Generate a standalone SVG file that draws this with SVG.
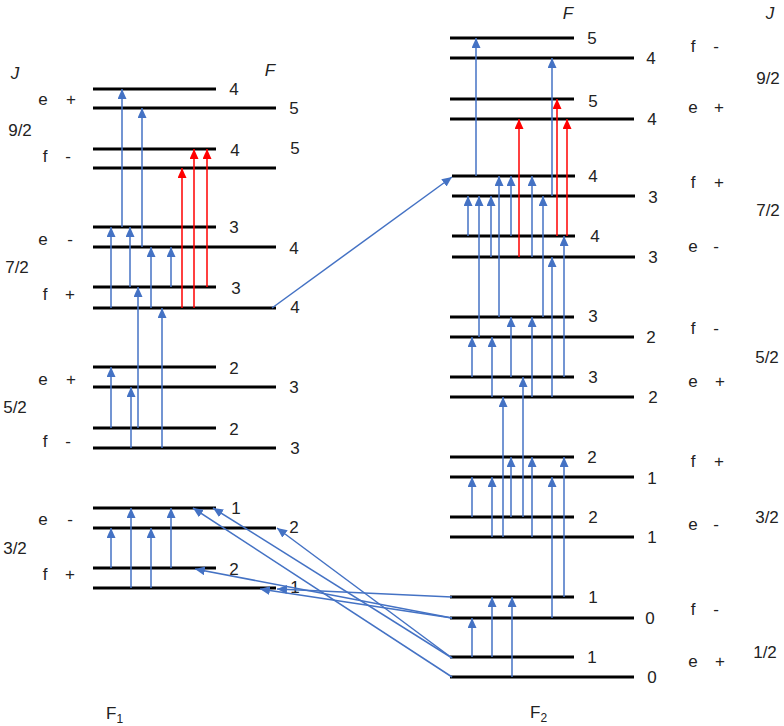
<svg xmlns="http://www.w3.org/2000/svg" width="784" height="726" viewBox="0 0 784 726">
<defs>
<style>
.lv{stroke:#000;stroke-width:3;fill:none}
.t{font-family:"Liberation Sans",Arial,sans-serif;font-size:17px;fill:#222}
.m{text-anchor:middle}
.i{font-style:italic}
.b{stroke:#4472C4;stroke-width:1.5;fill:none;marker-end:url(#ab)}
.r{stroke:#FF0000;stroke-width:1.5;fill:none;marker-end:url(#ar)}
</style>
<marker id="ab" viewBox="0 0 10 9" refX="10" refY="4.5" markerWidth="10" markerHeight="9" markerUnits="userSpaceOnUse" orient="auto"><path d="M0,0 L10,4.5 L0,9 z" fill="#4472C4"/></marker>
<marker id="ar" viewBox="0 0 10 9" refX="10" refY="4.5" markerWidth="10" markerHeight="9" markerUnits="userSpaceOnUse" orient="auto"><path d="M0,0 L10,4.5 L0,9 z" fill="#FF0000"/></marker>
</defs>
<rect width="784" height="726" fill="#fff"/>

<!-- axis headers -->
<text class="t i m" x="15" y="79">J</text>
<text class="t i m" x="270" y="76">F</text>
<text class="t i m" x="568" y="19">F</text>
<text class="t i m" x="770" y="19">J</text>
<text class="t" x="106" y="719">F<tspan font-size="12" dy="4">1</tspan></text>
<text class="t" x="530" y="718">F<tspan font-size="12" dy="4">2</tspan></text>

<!-- F1 column -->
<g id="F1-J92-e">
<line class="lv" x1="93" y1="89" x2="216" y2="89"/><line class="lv" x1="93" y1="108" x2="276" y2="108"/>
<text class="t m" x="234" y="95">4</text><text class="t m" x="294" y="114">5</text>
<text class="t m" x="43" y="105">e</text><text class="t m" x="71" y="105">+</text>
<text class="t m" x="20" y="136">9/2</text>
</g>
<g id="F1-J92-f">
<line class="lv" x1="93" y1="149" x2="216" y2="149"/><line class="lv" x1="93" y1="168" x2="276" y2="168"/>
<text class="t m" x="235" y="156">4</text><text class="t m" x="295" y="154">5</text>
<text class="t m" x="45" y="162">f</text><text class="t m" x="68" y="162">-</text>
</g>
<g id="F1-J72-e">
<line class="lv" x1="93" y1="227" x2="216" y2="227"/><line class="lv" x1="93" y1="247" x2="276" y2="247"/>
<text class="t m" x="234" y="233">3</text><text class="t m" x="294" y="254">4</text>
<text class="t m" x="43" y="245">e</text><text class="t m" x="70" y="245">-</text>
<text class="t m" x="17" y="273">7/2</text>
</g>
<g id="F1-J72-f">
<line class="lv" x1="93" y1="287" x2="216" y2="287"/><line class="lv" x1="93" y1="308" x2="276" y2="308"/>
<text class="t m" x="236" y="294">3</text><text class="t m" x="295" y="313">4</text>
<text class="t m" x="45" y="300">f</text><text class="t m" x="70" y="300">+</text>
</g>
<g id="F1-J52-e">
<line class="lv" x1="93" y1="367" x2="216" y2="367"/><line class="lv" x1="93" y1="387" x2="276" y2="387"/>
<text class="t m" x="234" y="374">2</text><text class="t m" x="294" y="393">3</text>
<text class="t m" x="43" y="385">e</text><text class="t m" x="71" y="385">+</text>
<text class="t m" x="15" y="413">5/2</text>
</g>
<g id="F1-J52-f">
<line class="lv" x1="93" y1="428" x2="216" y2="428"/><line class="lv" x1="93" y1="448" x2="276" y2="448"/>
<text class="t m" x="234" y="435">2</text><text class="t m" x="295" y="454">3</text>
<text class="t m" x="45" y="447">f</text><text class="t m" x="68" y="447">-</text>
</g>
<g id="F1-J32-e">
<line class="lv" x1="93" y1="508" x2="216" y2="508"/><line class="lv" x1="93" y1="528" x2="276" y2="528"/>
<text class="t m" x="236" y="514">1</text><text class="t m" x="294" y="533">2</text>
<text class="t m" x="43" y="525">e</text><text class="t m" x="70" y="525">-</text>
<text class="t m" x="15" y="554">3/2</text>
</g>
<g id="F1-J32-f">
<line class="lv" x1="93" y1="568" x2="216" y2="568"/><line class="lv" x1="93" y1="588" x2="276" y2="588"/>
<text class="t m" x="234" y="575">2</text><text class="t m" x="295" y="593">1</text>
<text class="t m" x="45" y="580">f</text><text class="t m" x="70" y="580">+</text>
</g>

<!-- F2 column -->
<g id="F2-J92-f">
<line class="lv" x1="450" y1="38" x2="574" y2="38"/><line class="lv" x1="450" y1="58" x2="634" y2="58"/>
<text class="t m" x="592" y="44">5</text><text class="t m" x="651" y="64">4</text>
<text class="t m" x="693" y="52">f</text><text class="t m" x="716" y="52">-</text>
<text class="t m" x="768" y="84">9/2</text>
</g>
<g id="F2-J92-e">
<line class="lv" x1="450" y1="99" x2="574" y2="99"/><line class="lv" x1="450" y1="119" x2="634" y2="119"/>
<text class="t m" x="593" y="107">5</text><text class="t m" x="652" y="125">4</text>
<text class="t m" x="693" y="113">e</text><text class="t m" x="719" y="113">+</text>
</g>
<g id="F2-J72-f">
<line class="lv" x1="452" y1="176" x2="575" y2="176"/><line class="lv" x1="452" y1="196" x2="635" y2="196"/>
<text class="t m" x="593" y="182">4</text><text class="t m" x="653" y="203">3</text>
<text class="t m" x="693" y="188">f</text><text class="t m" x="719" y="188">+</text>
<text class="t m" x="768" y="216">7/2</text>
</g>
<g id="F2-J72-e">
<line class="lv" x1="452" y1="236" x2="575" y2="236"/><line class="lv" x1="452" y1="257" x2="635" y2="257"/>
<text class="t m" x="595" y="242">4</text><text class="t m" x="653" y="263">3</text>
<text class="t m" x="693" y="252">e</text><text class="t m" x="716" y="252">-</text>
</g>
<g id="F2-J52-f">
<line class="lv" x1="450" y1="317" x2="574" y2="317"/><line class="lv" x1="450" y1="337" x2="634" y2="337"/>
<text class="t m" x="593" y="322">3</text><text class="t m" x="651" y="343">2</text>
<text class="t m" x="693" y="334">f</text><text class="t m" x="716" y="334">-</text>
<text class="t m" x="767" y="363">5/2</text>
</g>
<g id="F2-J52-e">
<line class="lv" x1="450" y1="377" x2="574" y2="377"/><line class="lv" x1="450" y1="397" x2="634" y2="397"/>
<text class="t m" x="593" y="383">3</text><text class="t m" x="653" y="403">2</text>
<text class="t m" x="693" y="387">e</text><text class="t m" x="720" y="387">+</text>
</g>
<g id="F2-J32-f">
<line class="lv" x1="450" y1="457" x2="574" y2="457"/><line class="lv" x1="450" y1="477" x2="634" y2="477"/>
<text class="t m" x="592" y="463">2</text><text class="t m" x="652" y="484">1</text>
<text class="t m" x="693" y="467">f</text><text class="t m" x="719" y="467">+</text>
<text class="t m" x="767" y="523">3/2</text>
</g>
<g id="F2-J32-e">
<line class="lv" x1="450" y1="517" x2="574" y2="517"/><line class="lv" x1="450" y1="537" x2="634" y2="537"/>
<text class="t m" x="593" y="523">2</text><text class="t m" x="652" y="543">1</text>
<text class="t m" x="693" y="530">e</text><text class="t m" x="716" y="530">-</text>
</g>
<g id="F2-J12-f">
<line class="lv" x1="450" y1="597" x2="574" y2="597"/><line class="lv" x1="450" y1="618" x2="634" y2="618"/>
<text class="t m" x="593" y="603">1</text><text class="t m" x="650" y="624">0</text>
<text class="t m" x="693" y="615">f</text><text class="t m" x="716" y="615">-</text>
</g>
<g id="F2-J12-e">
<line class="lv" x1="450" y1="657" x2="574" y2="657"/><line class="lv" x1="450" y1="677" x2="634" y2="677"/>
<text class="t m" x="592" y="663">1</text><text class="t m" x="652" y="683">0</text>
<text class="t m" x="693" y="667">e</text><text class="t m" x="720" y="667">+</text>
<text class="t m" x="765" y="658">1/2</text>
</g>

<g id="connectors">
<!-- F1 blue -->
<line class="b" x1="122" y1="227" x2="122" y2="89"/>
<line class="b" x1="142" y1="247" x2="142" y2="108"/>
<line class="b" x1="111" y1="308" x2="111" y2="227"/>
<line class="b" x1="130" y1="287" x2="130" y2="227"/>
<line class="b" x1="151" y1="308" x2="151" y2="247"/>
<line class="b" x1="171" y1="287" x2="171" y2="247"/>
<line class="b" x1="138" y1="428" x2="138" y2="287"/>
<line class="b" x1="162" y1="448" x2="162" y2="308"/>
<line class="b" x1="111" y1="428" x2="111" y2="367"/>
<line class="b" x1="131" y1="448" x2="131" y2="387"/>
<line class="b" x1="111" y1="568" x2="111" y2="528"/>
<line class="b" x1="131" y1="588" x2="131" y2="508"/>
<line class="b" x1="151" y1="588" x2="151" y2="528"/>
<line class="b" x1="171" y1="568" x2="171" y2="508"/>
<!-- F1 red -->
<line class="r" x1="182" y1="308" x2="182" y2="168"/>
<line class="r" x1="194" y1="308" x2="194" y2="149"/>
<line class="r" x1="207" y1="287" x2="207" y2="149"/>
<!-- F2 blue -->
<line class="b" x1="476" y1="176" x2="476" y2="38"/>
<line class="b" x1="552" y1="196" x2="552" y2="58"/>
<line class="b" x1="468" y1="236" x2="468" y2="196"/>
<line class="b" x1="479" y1="337" x2="479" y2="196"/>
<line class="b" x1="491" y1="257" x2="491" y2="196"/>
<line class="b" x1="543" y1="317" x2="543" y2="196"/>
<line class="b" x1="499" y1="317" x2="499" y2="176"/>
<line class="b" x1="511" y1="236" x2="511" y2="176"/>
<line class="b" x1="532" y1="257" x2="532" y2="176"/>
<line class="b" x1="552" y1="397" x2="552" y2="257"/>
<line class="b" x1="564" y1="377" x2="564" y2="236"/>
<line class="b" x1="472" y1="377" x2="472" y2="337"/>
<line class="b" x1="492" y1="397" x2="492" y2="337"/>
<line class="b" x1="511" y1="377" x2="511" y2="317"/>
<line class="b" x1="532" y1="397" x2="532" y2="317"/>
<line class="b" x1="523" y1="517" x2="523" y2="377"/>
<line class="b" x1="503" y1="537" x2="503" y2="397"/>
<line class="b" x1="472" y1="517" x2="472" y2="477"/>
<line class="b" x1="492" y1="537" x2="492" y2="477"/>
<line class="b" x1="511" y1="517" x2="511" y2="457"/>
<line class="b" x1="532" y1="537" x2="532" y2="457"/>
<line class="b" x1="552" y1="618" x2="552" y2="477"/>
<line class="b" x1="564" y1="597" x2="564" y2="457"/>
<line class="b" x1="472" y1="657" x2="472" y2="618"/>
<line class="b" x1="492" y1="657" x2="492" y2="597"/>
<line class="b" x1="512" y1="677" x2="512" y2="597"/>
<!-- F2 red -->
<line class="r" x1="557" y1="236" x2="557" y2="99"/>
<line class="r" x1="519" y1="257" x2="519" y2="119"/>
<line class="r" x1="567" y1="236" x2="567" y2="119"/>
<!-- cross -->
<line class="b" x1="272" y1="308" x2="452" y2="177"/>
<line class="b" x1="452" y1="597" x2="277" y2="589"/>
<line class="b" x1="452" y1="618" x2="260" y2="589"/>
<line class="b" x1="452" y1="618" x2="195" y2="569"/>
<line class="b" x1="452" y1="658" x2="213" y2="508"/>
<line class="b" x1="452" y1="658" x2="277" y2="528"/>
<line class="b" x1="452" y1="677" x2="193" y2="508"/>
</g>
</svg>
